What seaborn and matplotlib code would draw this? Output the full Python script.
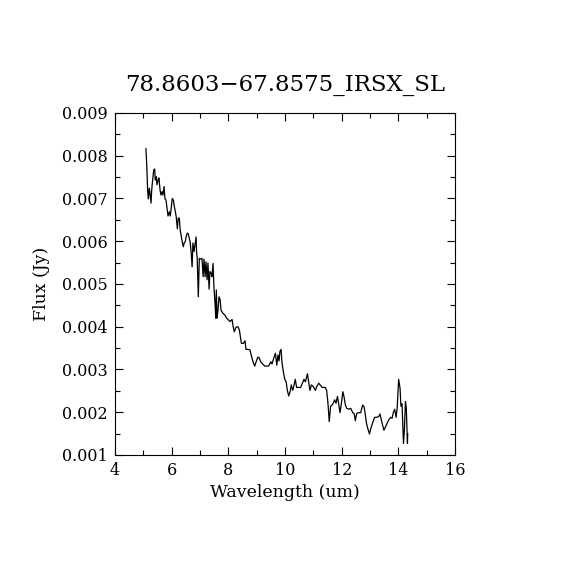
import numpy as np
import pandas as pd
import matplotlib
matplotlib.use("Agg")
import matplotlib.pyplot as plt
import seaborn as sns
from matplotlib.ticker import MultipleLocator

# spectrum
wavelength = [5.09, 5.12, 5.15, 5.175, 5.21, 5.235, 5.27, 5.295, 5.317, 5.366, 5.40, 5.42,
              5.46, 5.48, 5.52, 5.55, 5.59, 5.62, 5.66, 5.69, 5.73, 5.76, 5.80, 5.835,
              5.87, 5.92, 5.95, 5.99, 6.02, 6.06, 6.09, 6.13, 6.16, 6.20, 6.23, 6.27,
              6.30, 6.34, 6.37, 6.41, 6.44, 6.48, 6.51, 6.55, 6.58, 6.62, 6.65, 6.69,
              6.72, 6.75, 6.79, 6.82, 6.86, 6.88, 6.90, 6.94, 6.975, 7.02, 7.07, 7.11,
              7.14, 7.18, 7.21, 7.25, 7.28, 7.32, 7.35, 7.39, 7.42, 7.46, 7.49, 7.53,
              7.555, 7.575, 7.60, 7.635, 7.67, 7.71, 7.74, 7.80, 7.88, 7.94, 8.00, 8.06,
              8.13, 8.17, 8.21, 8.27, 8.34, 8.39, 8.46, 8.53, 8.59, 8.62, 8.69, 8.76,
              8.82, 8.88, 8.93, 8.98, 9.04, 9.09, 9.14, 9.21, 9.28, 9.35, 9.42, 9.50,
              9.54, 9.59, 9.66, 9.71, 9.75, 9.79, 9.82, 9.86, 9.89, 9.94, 9.99, 10.04,
              10.08, 10.13, 10.18, 10.22, 10.27, 10.32, 10.36, 10.41, 10.48, 10.55, 10.62, 10.67,
              10.72, 10.79, 10.84, 10.88, 10.93, 11.00, 11.07, 11.12, 11.19, 11.24, 11.31, 11.42,
              11.47, 11.52, 11.56, 11.61, 11.66, 11.70, 11.75, 11.80, 11.85, 11.90, 11.94, 11.99,
              12.04, 12.08, 12.13, 12.18, 12.25, 12.32, 12.39, 12.44, 12.48, 12.53, 12.60, 12.67,
              12.74, 12.79, 12.83, 12.88, 12.93, 12.98, 13.02, 13.09, 13.16, 13.23, 13.31, 13.35,
              13.40, 13.45, 13.49, 13.54, 13.59, 13.66, 13.73, 13.78, 13.82, 13.87, 13.92, 13.96,
              14.01, 14.06, 14.09, 14.13, 14.18, 14.21, 14.25, 14.28, 14.32, 14.33]
flux = [0.00817, 0.00778, 0.00720, 0.00699, 0.00724, 0.00712, 0.00689, 0.00720, 0.00736, 0.00767, 0.00769, 0.00743,
        0.00751, 0.00732, 0.00743, 0.00748, 0.00720, 0.00708, 0.00716, 0.00708, 0.00728, 0.00700, 0.00696, 0.00678,
        0.00659, 0.00669, 0.00659, 0.00681, 0.00700, 0.00696, 0.00682, 0.00669, 0.00657, 0.00629, 0.00654, 0.00654,
        0.00626, 0.00611, 0.00599, 0.00587, 0.00596, 0.00599, 0.00611, 0.00619, 0.00618, 0.00607, 0.00599, 0.00572,
        0.00540, 0.00596, 0.00576, 0.00591, 0.00610, 0.00572, 0.00561, 0.00470, 0.00560, 0.00558, 0.00560, 0.00517,
        0.00558, 0.00517, 0.00552, 0.00510, 0.00549, 0.00488, 0.00529, 0.00525, 0.00517, 0.00548, 0.00494, 0.00455,
        0.00420, 0.00486, 0.00420, 0.00439, 0.00470, 0.00463, 0.00439, 0.00432, 0.00427, 0.00420, 0.00416, 0.00412,
        0.00417, 0.00400, 0.00388, 0.00399, 0.00400, 0.00392, 0.00361, 0.00361, 0.00367, 0.00347, 0.00347, 0.00346,
        0.00330, 0.00316, 0.00308, 0.00318, 0.00329, 0.00327, 0.00318, 0.00313, 0.00308, 0.00308, 0.00308, 0.00318,
        0.00313, 0.00324, 0.00338, 0.00310, 0.00334, 0.00320, 0.00342, 0.00347, 0.00318, 0.00295, 0.00277, 0.00271,
        0.00252, 0.00238, 0.00248, 0.00264, 0.00251, 0.00264, 0.00277, 0.00258, 0.00258, 0.00258, 0.00269, 0.00277,
        0.00271, 0.00290, 0.00269, 0.00251, 0.00264, 0.00260, 0.00251, 0.00260, 0.00268, 0.00264, 0.00258, 0.00258,
        0.00251, 0.00217, 0.00178, 0.00214, 0.00217, 0.00221, 0.00229, 0.00221, 0.00237, 0.00217, 0.00199, 0.00221,
        0.00248, 0.00237, 0.00217, 0.00209, 0.00207, 0.00209, 0.00199, 0.00197, 0.00180, 0.00197, 0.00199, 0.00199,
        0.00217, 0.00213, 0.00196, 0.00172, 0.00160, 0.00149, 0.00160, 0.00175, 0.00188, 0.00188, 0.00190, 0.00196,
        0.00182, 0.00168, 0.00158, 0.00165, 0.00172, 0.00182, 0.00188, 0.00186, 0.00199, 0.00207, 0.00188, 0.00212,
        0.00277, 0.00256, 0.00214, 0.00220, 0.00127, 0.00155, 0.00225, 0.00210, 0.00127, 0.00150]

title = "78.8603\u221267.8575_IRSX_SL"

df = pd.DataFrame({"Wavelength": wavelength, "Flux": flux})

sns.set_style("ticks")
plt.rcParams["font.family"] = ["DejaVu Serif"]
plt.rcParams["text.color"] = "black"
plt.rcParams["axes.labelcolor"] = "black"

fig = plt.figure(figsize=(5.7, 5.7), dpi=100)
ax = fig.add_axes([0.2018, 0.2018, 0.5965, 0.6])

sns.lineplot(data=df, x="Wavelength", y="Flux", ax=ax, color="black",
             linewidth=0.9, sort=False, estimator=None)

ax.set_xlim(4, 16)
ax.set_ylim(0.001, 0.009)
ax.xaxis.set_major_locator(MultipleLocator(2))
ax.xaxis.set_minor_locator(MultipleLocator(1))
ax.yaxis.set_major_locator(MultipleLocator(0.001))
ax.yaxis.set_minor_locator(MultipleLocator(0.0005))
ax.yaxis.set_major_formatter(matplotlib.ticker.FormatStrFormatter("%.3f"))
ax.tick_params(which="both", direction="in", top=True, right=True,
               width=0.8, labelsize=11.5, colors="black", labelcolor="black")
ax.tick_params(which="major", length=6, pad=5)
ax.tick_params(which="minor", length=3.5)
for s in ax.spines.values():
    s.set_linewidth(0.8)
    s.set_color("black")

ax.set_xlabel("Wavelength (um)", fontsize=12.5, labelpad=4, color="black")
ax.set_ylabel("Flux (Jy)", fontsize=12.5, labelpad=9, color="black")
ax.set_title(title, fontsize=16.5, pad=16, color="black")

fig.savefig("out.png", dpi=100, facecolor="white")
